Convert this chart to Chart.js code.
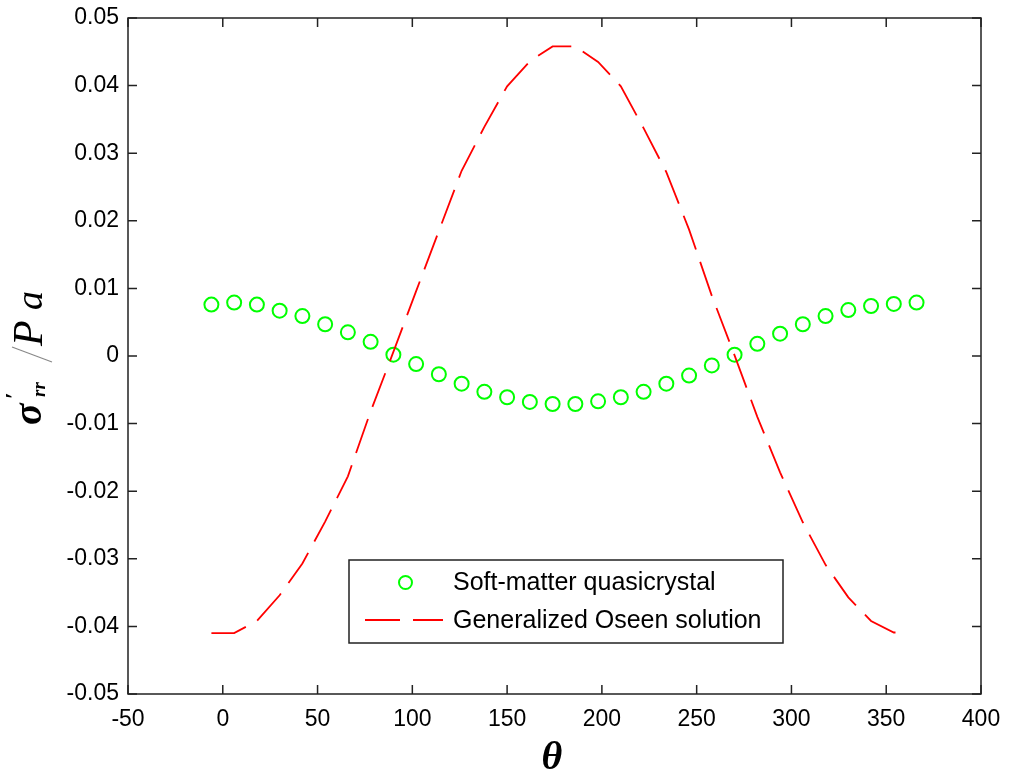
<!DOCTYPE html>
<html>
<head>
<meta charset="utf-8">
<script src="https://cdn.jsdelivr.net/npm/chart.js@4.4.0/dist/chart.umd.min.js"></script>
<style>
    html, body { margin: 0; padding: 0; background: #fff; }
    #wrap { width: 1009px; height: 776px; }
</style>
</head>
<body>
<div id="wrap"><canvas id="stressChart" width="1009" height="776"></canvas></div>
<script>
'use strict';

// ── Data ─────────────────────────────────────────────────────────────────────

const thetaSoft = [-6, 6, 18, 30, 42, 54, 66, 78, 90, 102, 114, 126, 138, 150, 162, 174,
    186, 198, 210, 222, 234, 246, 258, 270, 282, 294, 306, 318, 330, 342, 354, 366];
const sigmaSoft = [0.0076, 0.0079, 0.0076, 0.0067, 0.0059, 0.0047, 0.0035, 0.0021, 0.0002, -0.0012,
    -0.0027, -0.0041, -0.0053, -0.0061, -0.0068, -0.0071, -0.0071, -0.0067, -0.0061, -0.0053,
    -0.0041, -0.0029, -0.0014, 0.0002, 0.0018, 0.0033, 0.0047, 0.0059, 0.0068, 0.0074, 0.0077, 0.0079];

const thetaOseen = [-6, 6, 18, 30, 42, 54, 66, 78, 90, 102, 114, 126, 138, 150, 162, 174,
    186, 198, 210, 222, 234, 246, 258, 270, 282, 294, 306, 318, 330, 342, 354, 360];
const sigmaOseen = [-0.0410, -0.0410, -0.0392, -0.0354, -0.0307, -0.0245, -0.0178, -0.0082, 0.0006, 0.0096,
    0.0185, 0.0274, 0.0339, 0.0399, 0.0436, 0.0458, 0.0458, 0.0435, 0.0399, 0.0337,
    0.0272, 0.0187, 0.0089, 0.0001, -0.0090, -0.0172, -0.0246, -0.0309, -0.0357, -0.0392, -0.0409, -0.0409];

const xTicks = [-50, 0, 50, 100, 150, 200, 250, 300, 350, 400];
const xTickLabels = ['-50', '0', '50', '100', '150', '200', '250', '300', '350', '400'];
const yTicks = [-0.05, -0.04, -0.03, -0.02, -0.01, 0, 0.01, 0.02, 0.03, 0.04, 0.05];
const yTickLabels = ['-0.05', '-0.04', '-0.03', '-0.02', '-0.01', '0', '0.01', '0.02', '0.03', '0.04', '0.05'];

const legendLabels = ['Soft-matter quasicrystal', 'Generalized Oseen solution'];

const GREEN = '#00ff00';
const RED = '#ff0000';
const DASH = [36, 13];
const SANS = '"Liberation Sans", Arial, sans-serif';
const SERIF = '"Liberation Serif", "Times New Roman", serif';

// ── Plugins ──────────────────────────────────────────────────────────────────

// box around the axes with matlab style inward ticks on all four sides
const frameTicks = {
    id: 'frameTicks',
    afterDraw(chart) {
        const { ctx, chartArea: a, scales } = chart;
        const len = 9;
        ctx.save();
        ctx.strokeStyle = '#222';
        ctx.lineWidth = 1.5;
        ctx.strokeRect(a.left, a.top, a.right - a.left, a.bottom - a.top);
        ctx.beginPath();
        xTicks.forEach(v => {
            const px = scales.x.getPixelForValue(v);
            ctx.moveTo(px, a.bottom); ctx.lineTo(px, a.bottom - len);
            ctx.moveTo(px, a.top); ctx.lineTo(px, a.top + len);
        });
        yTicks.forEach(v => {
            const py = scales.y.getPixelForValue(v);
            ctx.moveTo(a.left, py); ctx.lineTo(a.left + len, py);
            ctx.moveTo(a.right, py); ctx.lineTo(a.right - len, py);
        });
        ctx.stroke();
        ctx.restore();
    },
};

// axis titles: bold italic theta, and sigma'_rr / Pa rotated
const axisTitles = {
    id: 'axisTitles',
    afterDraw(chart) {
        const { ctx } = chart;
        ctx.save();
        ctx.fillStyle = '#000';
        ctx.textBaseline = 'alphabetic';
        ctx.textAlign = 'center';
        ctx.font = 'bold italic 40px ' + SERIF;
        ctx.fillText('θ', 552, 769);

        ctx.translate(41, 425);
        ctx.rotate(-Math.PI / 2);
        ctx.textAlign = 'left';
        ctx.font = 'bold italic 40px ' + SERIF;
        ctx.fillText('σ', 0, 0);
        ctx.font = 'bold 24px ' + SERIF;
        ctx.fillText('′', 26, -20);
        ctx.font = 'bold italic 19px ' + SERIF;
        ctx.fillText('rr', 28, 4);
        ctx.strokeStyle = '#888';
        ctx.lineWidth = 1.2;
        ctx.beginPath();
        ctx.moveTo(63, 11);
        ctx.lineTo(78, -29);
        ctx.stroke();
        ctx.font = 'italic 42px ' + SERIF;
        ctx.fillText('P', 79, 1);
        ctx.font = 'italic 38px ' + SERIF;
        ctx.fillText('a', 115, 1);
        ctx.restore();
    },
};

// legend box inside the plot area, lower middle
const legendBox = {
    id: 'legendBox',
    afterDraw(chart) {
        const { ctx } = chart;
        ctx.save();
        ctx.fillStyle = '#fff';
        ctx.fillRect(349, 560, 434, 83);
        ctx.strokeStyle = '#222';
        ctx.lineWidth = 1.5;
        ctx.strokeRect(349, 560, 434, 83);

        ctx.strokeStyle = GREEN;
        ctx.lineWidth = 2;
        ctx.beginPath();
        ctx.arc(405.5, 582.5, 6.5, 0, Math.PI * 2);
        ctx.stroke();

        ctx.strokeStyle = RED;
        ctx.lineWidth = 1.8;
        ctx.setLineDash([35, 13]);
        ctx.beginPath();
        ctx.moveTo(365, 620);
        ctx.lineTo(443, 620);
        ctx.stroke();
        ctx.setLineDash([]);

        ctx.fillStyle = '#000';
        ctx.font = '25px ' + SANS;
        ctx.textBaseline = 'middle';
        ctx.textAlign = 'left';
        ctx.fillText(legendLabels[0], 453, 583);
        ctx.fillText(legendLabels[1], 453, 621);
        ctx.restore();
    },
};

// ── Chart ────────────────────────────────────────────────────────────────────

const softPoints = thetaSoft.map((t, i) => ({ x: t, y: sigmaSoft[i] }));
const oseenPoints = thetaOseen.map((t, i) => ({ x: t, y: sigmaOseen[i] }));

new Chart(document.getElementById('stressChart'), {
    type: 'scatter',
    data: {
        datasets: [
            {
                label: legendLabels[1],
                data: oseenPoints,
                showLine: true,
                borderColor: RED,
                borderWidth: 1.8,
                borderDash: DASH,
                pointRadius: 0,
                tension: 0,
                fill: false,
            },
            {
                label: legendLabels[0],
                data: softPoints,
                showLine: false,
                pointStyle: 'circle',
                pointRadius: 7,
                pointBorderWidth: 2,
                pointBorderColor: GREEN,
                pointBackgroundColor: 'rgba(0,0,0,0)',
            },
        ],
    },
    options: {
        responsive: false,
        animation: false,
        events: [],
        layout: { padding: { left: 0, top: 18, right: 28, bottom: 0 } },
        plugins: {
            legend: { display: false },
            tooltip: { enabled: false },
        },
        scales: {
            x: {
                type: 'linear',
                min: -50,
                max: 400,
                afterBuildTicks(scale) { scale.ticks = xTicks.map(v => ({ value: v })); },
                afterFit(scale) {
                    scale.height = 82;
                    scale.paddingLeft = 0;
                    scale.paddingRight = 0;
                },
                grid: { display: false, drawTicks: false },
                border: { display: false },
                ticks: {
                    padding: 12,
                    color: '#000',
                    font: { family: SANS, size: 23 },
                    maxRotation: 0,
                    callback: (v, i) => xTickLabels[i],
                },
            },
            y: {
                type: 'linear',
                min: -0.05,
                max: 0.05,
                afterBuildTicks(scale) { scale.ticks = yTicks.map(v => ({ value: v })); },
                afterFit(scale) {
                    scale.width = 128;
                    scale.paddingTop = 0;
                    scale.paddingBottom = 0;
                },
                grid: { display: false, drawTicks: false },
                border: { display: false },
                ticks: {
                    padding: 9,
                    color: '#000',
                    font: { family: SANS, size: 23 },
                    callback: (v, i) => yTickLabels[i],
                },
            },
        },
    },
    plugins: [frameTicks, axisTitles, legendBox],
});
</script>
</body>
</html>
